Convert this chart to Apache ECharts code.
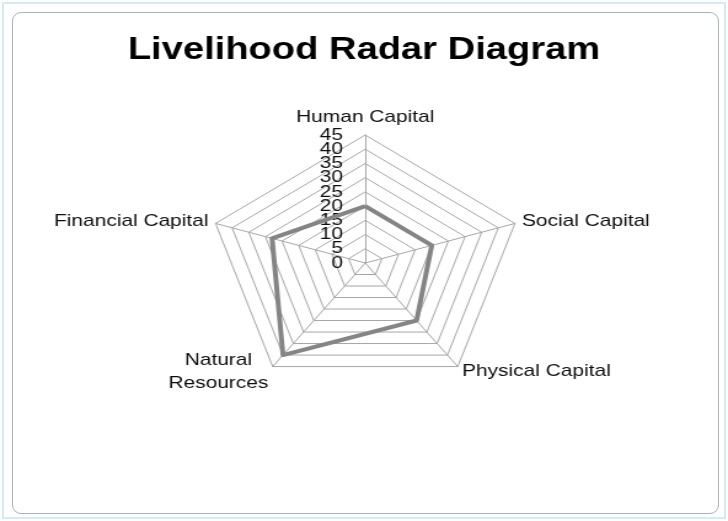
<!DOCTYPE html>
<html>
<head>
<meta charset="utf-8">
<script src="https://cdn.jsdelivr.net/npm/echarts@6/dist/echarts.min.js"></script>
<style>
  html, body { margin: 0; padding: 0; background: #fff; }
  #wrap { position: relative; width: 728px; height: 521px; overflow: hidden; }
  /* chart frame (outer glow + inner rounded border) */
  .outer { position: absolute; left: 2px; top: 2px; right: 2px; bottom: 2px;
           border: 2px solid #d4ecf1; }
  .inner { position: absolute; left: 12px; top: 12px; right: 9px; bottom: 7px;
           border: 1px solid #a7b3b8; border-radius: 9px; }
  /* the original picture is stretched horizontally, so is the chart */
  #main { position: absolute; left: 0; top: 0; width: 592px; height: 521px;
          transform: scaleX(1.2297); transform-origin: 0 0; }
</style>
</head>
<body>
<div id="wrap">
  <div class="outer"></div>
  <div class="inner"></div>
  <div id="main"></div>
</div>
<script>
/* ================= data (clockwise from top, as in the picture) ================= */
const indicators = ["Human Capital", "Social Capital", "Physical Capital", "Natural\nResources", "Financial Capital"];
const livelihood = [20, 20, 25, 40, 28];
const axisMin = 0;
const axisMax = 45;
const axisStep = 5;

/* echarts radar runs counter-clockwise: keep the first axis, reverse the rest */
const order = [0, 4, 3, 2, 1];

const CX = 297, CY = 263, R = 128;

const labelStyle = {
  color: "#0d0d0d",
  fontFamily: "Liberation Sans",
  fontSize: 17,
  margin: 18,
};

/* bare y axis laid over the top spoke, only for its labels */
const valueAxis = (extra) => ({
  type: "value",
  position: "left",
  min: axisMin,
  max: axisMax,
  interval: axisStep,
  axisLine: { show: false },
  axisTick: { show: false },
  splitLine: { show: false },
  ...extra,
});

const chart = echarts.init(document.getElementById("main"));

chart.setOption({
  animation: false,
  title: {
    text: "Livelihood Radar Diagram",
    left: "center",
    top: 30,
    textStyle: {
      fontFamily: "Liberation Sans",
      fontSize: 31,
      fontWeight: "bold",
      color: "#000",
    },
  },
  grid: { left: CX, top: CY - R, width: 1, height: R },
  xAxis: { type: "value", show: false },
  yAxis: [
    // inner labels 5..40 (end labels are dropped by the overlap check)
    valueAxis({ axisLabel: { ...labelStyle } }),
    // end labels 0 and 45
    valueAxis({
      axisLabel: {
        ...labelStyle,
        showMinLabel: true,
        showMaxLabel: true,
        formatter: (v) => (v === axisMin || v === axisMax ? String(v) : ""),
      },
    }),
  ],
  radar: {
    center: [CX, CY],
    radius: R,
    startAngle: 90,
    splitNumber: (axisMax - axisMin) / axisStep,
    shape: "polygon",
    nameGap: 6,
    axisName: {
      color: "#0d0d0d",
      fontFamily: "Liberation Sans",
      fontSize: 17,
      lineHeight: 23,
      // two-line names are centred line by line
      formatter: (name) =>
        name.includes("\n") ? name.split("\n").map((s) => `{c|${s}}`).join("\n") : name,
      rich: {
        c: { align: "center", color: "#0d0d0d", fontFamily: "Liberation Sans", fontSize: 17, lineHeight: 23 },
      },
    },
    indicator: order.map((k) => ({ name: indicators[k], min: axisMin, max: axisMax })),
    axisLine: { lineStyle: { color: "#a6a6a6", width: 1 } },
    splitLine: { lineStyle: { color: "#a6a6a6", width: 1 } },
    splitArea: { show: false },
    axisTick: { show: false },
    axisLabel: { show: false },
  },
  series: [
    {
      type: "radar",
      symbol: "none",
      lineStyle: { color: "#858585", width: 4 },
      data: [{ value: order.map((k) => livelihood[k]), name: "Livelihood" }],
    },
  ],
});
</script>
</body>
</html>
